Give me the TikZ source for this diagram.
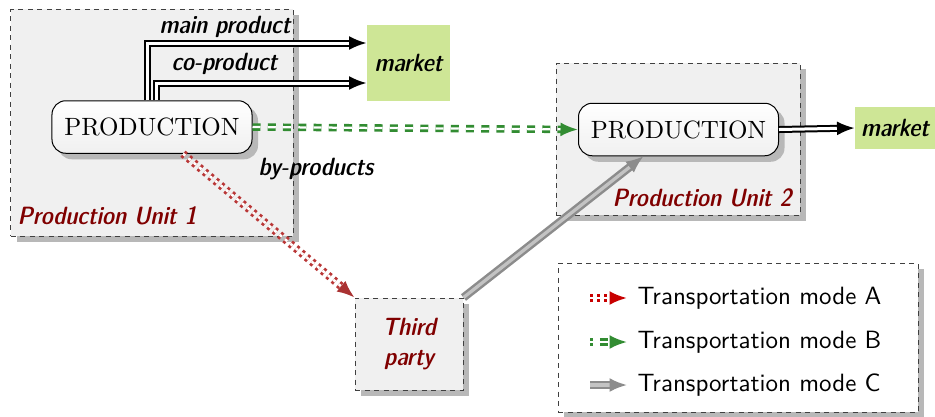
\documentclass[tikz,border=0pt]{standalone}
\usepackage{fontspec}
\newfontfamily\dcfont{lmsansdemicond10-oblique}[Extension=.otf]
\usetikzlibrary{arrows.meta,shadows,positioning,calc}
\definecolor{unitred}{RGB}{128,0,0}
\definecolor{marketgreen}{RGB}{206,230,150}
\definecolor{modeA}{RGB}{185,55,55}
\definecolor{modeAhead}{RGB}{170,50,50}
\definecolor{modeAtip}{RGB}{200,0,0}
\definecolor{modeB}{RGB}{50,140,50}
\definecolor{modeC}{RGB}{140,140,140}
\definecolor{modeCin}{RGB}{195,195,195}
\tikzset{
  boxshadow/.style={drop shadow={shadow xshift=2.4pt,shadow yshift=-2.4pt,fill=black!28,opacity=1}},
  unitbox/.style={draw=black!75,dash pattern=on 2pt off 1.8pt,fill=black!6,boxshadow,inner sep=0pt},
  prodbox/.style={draw=black,rounded corners=5.5pt,top color=white,bottom color=black!6,
    boxshadow,inner sep=0pt,minimum width=80pt,minimum height=21pt,font=\rmfamily},
  marketbox/.style={fill=marketgreen,inner sep=0pt,font=\dcfont},
  flowlabel/.style={font=\dcfont,inner sep=0pt},
  unitlabel/.style={font=\dcfont,text=unitred,inner sep=0pt},
  bigtip/.style={-{Latex[length=7pt,width=5.6pt,#1]}},
  flowC/.style={draw=black,double=white,line width=0.8pt,double distance=1.2pt,bigtip={}},
  modeAline/.style={draw=modeA,double=white,line width=1.1pt,double distance=1pt,
    dash pattern=on 1.2pt off 1.6pt,bigtip={color=modeAhead}},
  modeBline/.style={draw=modeB,double=white,line width=1.05pt,double distance=0.9pt,
    dash pattern=on 3.2pt off 2.9pt,bigtip={color=modeB}},
  modeCline/.style={draw=modeC,double=modeCin,line width=1pt,double distance=1.3pt,
    bigtip={color=modeC}},
}
\begin{document}
\begin{tikzpicture}[x=0.4pt,y=-0.4pt]
\useasboundingbox (0,0) rectangle (935,416);

% production units
\node[unitbox,minimum width=112.8pt,minimum height=90.8pt] (pu1) at (152,122.5) {};
\node[unitbox,minimum width=97.6pt,minimum height=60.8pt] (pu2) at (678,139) {};

\node[prodbox] (pro1) at (152,127) {PRODUCTION};
\node[prodbox] (pro2) at (678.5,129.5) {PRODUCTION};

\node[unitlabel] (pul1) at (107,216) {Production Unit 1};
\node[unitlabel] (pul2) at (702,198) {Production Unit 2};

% markets
\node[marketbox,minimum width=33.2pt,minimum height=30.4pt] (mk1) at (408.5,63) {market};
\node[marketbox,minimum width=32pt,minimum height=16.8pt] (mk2) at (895,128) {market};

% third party
\node[unitbox,minimum width=43.2pt,minimum height=36.8pt,font=\dcfont,
  text=unitred,align=center] (tp) at (409,344) {Third\\party};

% product flows
\draw[flowC] ([xshift=-1.7pt]pro1.north) |- ([yshift=8pt]mk1.west);
\draw[flowC] ([xshift=1.7pt]pro1.north) |- ([yshift=-8pt]mk1.west);
\draw[flowC] (pro2.east) -- (mk2.west);

\node[flowlabel] (lmain) at (225,27) {main product};
\node[flowlabel] (lco) at (224.5,64) {co-product};
\node[flowlabel] (lby) at (316,169) {by-products};

% transport links
\draw[modeBline] (pro1.east) -- (pro2.west);
\draw[modeAline] ([xshift=12.4pt]pro1.south) -- (tp.north west);
\draw[modeCline] (tp.north east) -- ([xshift=-14pt]pro2.south);

% legend
\node[draw=black!75,dash pattern=on 2pt off 1.8pt,fill=white,boxshadow,
  minimum width=144pt,minimum height=59.6pt,inner sep=0pt] (leg) at (738,337.5) {};
\coordinate (a1) at (590,298); \coordinate (a2) at (627,298);
\coordinate (b1) at (590,342); \coordinate (b2) at (627,342);
\coordinate (c1) at (590,385); \coordinate (c2) at (627,385);
\draw[modeAline,draw=modeAtip,bigtip={color=modeAtip}] (a1) -- (a2);
\draw[modeBline,dash phase=2.2pt] (b1) -- (b2);
\draw[modeCline] (c1) -- (c2);
\node[anchor=west,font=\sffamily,inner sep=0pt] (ta) at (637,298) {Transportation mode A};
\node[anchor=west,font=\sffamily,inner sep=0pt] (tb) at (637,342) {Transportation mode B};
\node[anchor=west,font=\sffamily,inner sep=0pt] (tc) at (637,385) {Transportation mode C};
\end{tikzpicture}
\end{document}
